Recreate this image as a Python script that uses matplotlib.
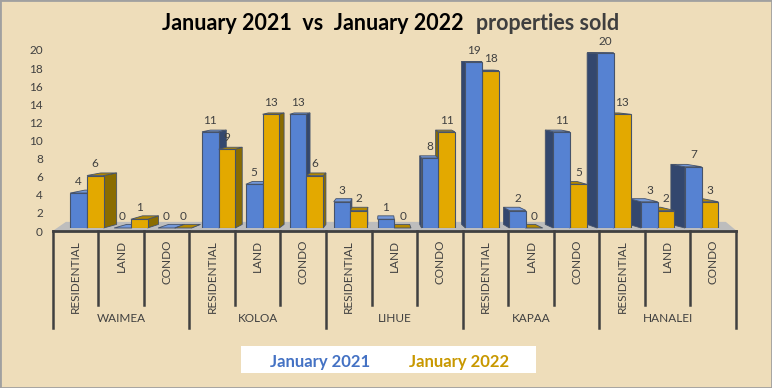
import matplotlib.pyplot as plt
from matplotlib.patches import Polygon, Rectangle

plt.rcParams['font.family'] = ['Lato', 'DejaVu Sans']

# data
towns = ['WAIMEA', 'KOLOA', 'LIHUE', 'KAPAA', 'HANALEI']
types = ['RESIDENTIAL', 'LAND', 'CONDO']
sold_2021 = [4, 0, 0, 11, 5, 13, 3, 1, 8, 19, 2, 11, 20, 3, 7]
sold_2022 = [6, 1, 0, 9, 13, 6, 2, 0, 11, 18, 0, 5, 13, 2, 3]
yticks = list(range(0, 21, 2))

W, H = 772, 388
fig = plt.figure(figsize=(W / 100, H / 100), dpi=100)
fig.patch.set_facecolor('#EEDDBA')


def box(x0, y0, x1, y1):
    # pixel box -> figure fraction
    return [x0 / W, 1 - y1 / H, (x1 - x0) / W, (y1 - y0) / H]


# fake 3D perspective
vp, kx, ky = 6.735, 0.0466, 0.020


def depth(x, y):
    return kx * (vp - x), ky * (20.57 - y)


ax = fig.add_axes(box(65, 53, 723.6, 228))
ax.set_xlim(-0.5, 14.5)
ax.set_ylim(0, 20)
ax.axis('off')

# floor
fx0, fx1 = -0.78, 14.8
floor = Polygon([(fx0, -0.34), (fx1, -0.34), (fx1 - 0.25, 0.7), (fx0 + 0.3, 0.7)],
                closed=True, facecolor='#BDBDBD', edgecolor='none', zorder=1, clip_on=False)
ax.add_patch(floor)

bw = 0.38
n = len(sold_2021)
xs = list(range(n))
series = [
    (sold_2021, -bw / 2, '#5682D2', '#33476E', '#7398DA'),
    (sold_2022, bw / 2, '#E3A900', '#8A6C00', '#B38800'),
]
edge = '#46536A'

for vals, off, front, side, top in series:
    pos = [x + off for x in xs]
    bars = ax.bar(pos, vals, width=bw, color=front, edgecolor=edge, linewidth=0.8)
    for rect, x, v in zip(bars, pos, vals):
        z = 3 - abs(x - vp) / 20
        rect.set_zorder(z + 0.005)
        xl, xr = x - bw / 2, x + bw / 2
        dxl, _ = depth(xl, v)
        dxr, dyt = depth(xr, v)
        _, dyb = depth(xr, 0)
        if dxr > 0:
            pts = [(xr, 0), (xr, v), (xr + dxr, v + dyt), (xr + dxr, dyb)]
            ax.add_patch(Polygon(pts, closed=True, facecolor=side, edgecolor=edge,
                                 linewidth=0.6, zorder=z, clip_on=False))
        if dxl < 0:
            pts = [(xl, 0), (xl, v), (xl + dxl, v + dyt), (xl + dxl, dyb)]
            ax.add_patch(Polygon(pts, closed=True, facecolor=side, edgecolor=edge,
                                 linewidth=0.6, zorder=z, clip_on=False))
        pts = [(xl, v), (xr, v), (xr + dxr, v + dyt), (xl + dxl, v + dyt)]
        ax.add_patch(Polygon(pts, closed=True, facecolor=top, edgecolor=edge,
                             linewidth=0.6, zorder=z + 0.002, clip_on=False))
        ax.annotate(str(v), (x, v), xytext=(0, 4.5), textcoords='offset points',
                    ha='center', va='bottom', fontsize=8.5, color='#404040', zorder=10)

# value axis labels
ay = fig.add_axes(box(52, 50, 53, 231))
ay.set_ylim(0, 20)
ay.set_yticks(yticks)
ay.set_xticks([])
for s in ay.spines.values():
    s.set_visible(False)
ay.patch.set_visible(False)
ay.tick_params(axis='y', length=0, pad=6.5, labelsize=8.5, labelcolor='#404040')

# category axis (two levels)
ac = fig.add_axes(box(52.7, 231, 736, 328))
ac.set_xlim(-0.5, 14.5)
ac.set_ylim(0, 1)
ac.axis('off')
lc = '#404040'
ac.plot([-0.5, 14.5], [1, 1], color=lc, lw=2, clip_on=False)
for b in range(n + 1):
    y0 = 0 if b % 3 == 0 else 0.237
    ac.plot([b - 0.5, b - 0.5], [1, y0], color=lc, lw=1.8, clip_on=False)
for i in range(n):
    ac.text(i, 0.907, types[i % 3], rotation=90, ha='center', va='top',
            fontsize=8.5, color='#404040')
for g, town in enumerate(towns):
    ac.text(3 * g + 1, 0.093, town, ha='center', va='center', fontsize=8.5, color='#404040')

# title in two colours
t1 = fig.text(162 / W, 1 - 30 / H, 'January 2021  vs  January 2022', ha='left', va='baseline',
              fontsize=15.5, fontweight='bold', color='black')
ax.annotate('properties sold', xy=(1, 0), xycoords=t1, xytext=(9, 0), textcoords='offset points',
            ha='left', va='bottom', fontsize=15.5, fontweight='bold', color='#3F3F3F')

# legend box
fig.patches.append(Rectangle((241 / W, 1 - 373 / H), 295 / W, 27 / H, transform=fig.transFigure,
                             facecolor='white', edgecolor='none', zorder=0))
fig.text(320 / W, 1 - 362 / H, 'January 2021', ha='center', va='center', fontsize=12,
         fontweight='bold', color='#4472C4')
fig.text(459 / W, 1 - 362 / H, 'January 2022', ha='center', va='center', fontsize=12,
         fontweight='bold', color='#C89800')

fig.patches.append(Rectangle((0, 0), 1, 1, transform=fig.transFigure, fill=False,
                             edgecolor='#A0A0A0', linewidth=2))

fig.savefig('out.png', dpi=100, facecolor=fig.get_facecolor())
